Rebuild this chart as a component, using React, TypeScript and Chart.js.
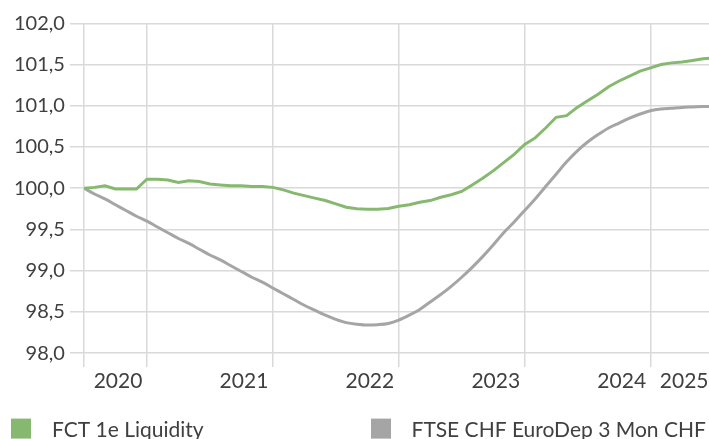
import React, { useEffect, useRef } from "react";
import { Chart, registerables } from "chart.js";

Chart.register(...registerables);

// Month index from the start of the series (one value per month)
const monthIndex = [
  0, 1, 2, 3, 4, 5, 6, 7, 8, 9,
  10, 11, 12, 13, 14, 15, 16, 17, 18, 19,
  20, 21, 22, 23, 24, 25, 26, 27, 28, 29,
  30, 31, 32, 33, 34, 35, 36, 37, 38, 39,
  40, 41, 42, 43, 44, 45, 46, 47, 48, 49,
  50, 51, 52, 53, 54, 55, 56, 57, 58, 59, 60,
];

const fctLiquidity = [
  100.0, 100.01, 100.03, 99.99, 99.99, 99.99, 100.11, 100.11, 100.1, 100.07,
  100.09, 100.08, 100.05, 100.04, 100.03, 100.03, 100.02, 100.02, 100.01, 99.98,
  99.94, 99.91, 99.88, 99.85, 99.81, 99.77, 99.75, 99.745, 99.745, 99.755,
  99.78, 99.8, 99.83, 99.85, 99.89, 99.92, 99.96, 100.04, 100.12, 100.21,
  100.31, 100.41, 100.53, 100.61, 100.73, 100.86, 100.88, 100.98, 101.06, 101.14,
  101.23, 101.3, 101.36, 101.42, 101.46, 101.5, 101.52, 101.53, 101.55, 101.57, 101.58,
];

const ftseEuroDep = [
  100.0, 99.93, 99.87, 99.8, 99.73, 99.66, 99.6, 99.53, 99.46, 99.39,
  99.33, 99.26, 99.19, 99.13, 99.06, 98.99, 98.92, 98.86, 98.79, 98.72,
  98.65, 98.58, 98.52, 98.46, 98.41, 98.37, 98.35, 98.34, 98.345, 98.36,
  98.4, 98.46, 98.53, 98.62, 98.71, 98.81, 98.92, 99.04, 99.17, 99.31,
  99.46, 99.59, 99.73, 99.87, 100.02, 100.17, 100.32, 100.45, 100.56, 100.65,
  100.73, 100.79, 100.85, 100.9, 100.94, 100.96, 100.97, 100.98, 100.985, 100.99, 100.99,
];

const seriesNames = ["FCT 1e Liquidity", "FTSE CHF EuroDep 3 Mon CHF"];
const seriesColors = ["#86b96f", "#a5a5a5"];

// Year boundaries (month index) and their labels
const yearTickMonths = [6, 18, 30, 42, 54];
const yearLabels = ["2020", "2021", "2022", "2023", "2024", "2025"];
const xMaxMonth = 59.95;

const yTickLabels = ["98,0", "98,5", "99,0", "99,5", "100,0", "100,5", "101,0", "101,5", "102,0"];

const FONT = "Lato";
const TEXT = "#404040";
const GRID = "#d9d9d9";

const legendPlugin = {
  id: "bottomLegend",
  afterDraw(chart: any) {
    const { ctx, chartArea } = chart;
    const top = chartArea.bottom + 65.5;
    const slots = [
      { box: 11, text: 52 },
      { box: 371, text: 411.5 },
    ];
    ctx.save();
    ctx.font = `21px ${FONT}`;
    ctx.textBaseline = "alphabetic";
    ctx.textAlign = "left";
    chart.data.datasets.forEach((ds: any, i: number) => {
      const s = slots[i];
      ctx.fillStyle = seriesColors[i];
      ctx.fillRect(s.box, top, 20, 20);
      ctx.fillStyle = TEXT;
      ctx.fillText(ds.label, s.text, top + 18.5);
    });
    ctx.restore();
  },
};

export default function App() {
  const ref = useRef<HTMLCanvasElement>(null);

  useEffect(() => {
    if (!ref.current) return;
    const toPoints = (vals: number[]) => vals.map((v, i) => ({ x: monthIndex[i], y: v }));
    const chart = new Chart(ref.current, {
      type: "line",
      data: {
        datasets: [
          {
            label: seriesNames[0],
            data: toPoints(fctLiquidity),
            borderColor: seriesColors[0],
            backgroundColor: seriesColors[0],
            borderWidth: 3,
            pointRadius: 0,
            tension: 0,
          },
          {
            label: seriesNames[1],
            data: toPoints(ftseEuroDep),
            borderColor: seriesColors[1],
            backgroundColor: seriesColors[1],
            borderWidth: 3,
            pointRadius: 0,
            cubicInterpolationMode: "monotone",
          },
        ],
      },
      options: {
        animation: false,
        responsive: false,
        maintainAspectRatio: false,
        layout: { padding: { left: 9, right: 0, top: 23.3, bottom: 42.7 } },
        plugins: {
          legend: { display: false },
          tooltip: { enabled: false },
        },
        scales: {
          x: {
            type: "linear",
            min: 0,
            max: xMaxMonth,
            border: { display: false },
            grid: {
              color: (c: any) => (c.tick && c.tick.value >= xMaxMonth ? "rgba(0,0,0,0)" : GRID),
              lineWidth: 1.5,
              tickLength: 14,
              drawTicks: true,
            },
            afterBuildTicks: (axis: any) => {
              axis.ticks = [0, ...yearTickMonths, xMaxMonth].map((v) => ({ value: v }));
            },
            ticks: {
              autoSkip: false,
              maxRotation: 0,
              align: "end",
              labelOffset: -4.5,
              padding: 2,
              color: TEXT,
              font: { family: FONT, size: 21 },
              callback: (value: any, index: number) => (index === 0 ? "" : yearLabels[index - 1]),
            },
          },
          y: {
            min: 98,
            max: 102,
            border: { display: false },
            grid: { color: GRID, lineWidth: 1.5, tickLength: 14 },
            ticks: {
              stepSize: 0.5,
              padding: 5,
              color: TEXT,
              font: { family: FONT, size: 20 },
              callback: (value: any, index: number) => yTickLabels[index],
            },
          },
        },
      },
      plugins: [legendPlugin],
    });
    return () => chart.destroy();
  }, []);

  return (
    <div style={{ position: "fixed", left: 0, top: 0, width: 709, height: 439, overflow: "hidden", background: "#fff" }}>
      <canvas ref={ref} width={715} height={439} style={{ display: "block" }} />
    </div>
  );
}
